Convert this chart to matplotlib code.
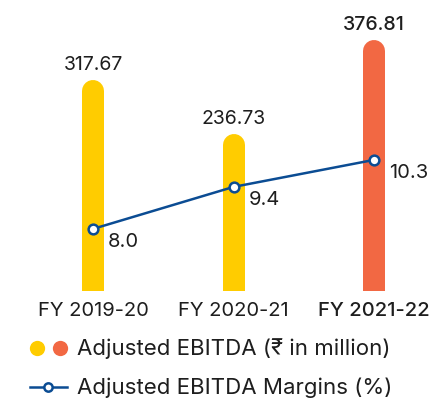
import matplotlib
matplotlib.use("Agg")
import matplotlib.pyplot as plt
from matplotlib.lines import Line2D

# chart values
years = ["FY 2019-20", "FY 2020-21", "FY 2021-22"]
ebitda = [317.67, 236.73, 376.81]
margins = [8.0, 9.4, 10.3]
bar_colors = ["#FFCC00", "#FFCC00", "#F26843"]
bold_last = [False, False, True]

plt.rcParams['font.family'] = ['Inter', 'DejaVu Sans']
text_col = "#1e1e1e"
blue = "#0B4C93"

W, H, dpi = 436, 400, 100
fig = plt.figure(figsize=(W / dpi, H / dpi), dpi=dpi)

# bars axis: bottom at 291px from top
ax = fig.add_axes([0, 1 - 291 / H, 1, 291 / H])
ax.set_xlim(-0.662, 2.441)
ax.set_ylim(0, 437.6)
ax.axis('off')

bar_px = 22
px_per_unit = 291 / 437.6
r = bar_px / 2 / px_per_unit
lw = bar_px * 72 / dpi
for i, v in enumerate(ebitda):
    wt = 'medium' if bold_last[i] else 'normal'
    ax.plot([i, i], [-2 * r, v - r], color=bar_colors[i], lw=lw,
            solid_capstyle='round', zorder=1)
    ax.annotate(f"{v:.2f}", (i, v), xytext=(0, 10), textcoords='offset pixels',
                ha='center', va='baseline', fontsize=14, color=text_col,
                weight=wt, annotation_clip=False)
    ax.annotate(years[i], (i, 0), xytext=(0, -25), textcoords='offset pixels',
                ha='center', va='baseline', fontsize=14.5, color=text_col,
                weight=wt, annotation_clip=False)

# margin line
ax2 = ax.twinx()
ax2.set_ylim(5.93, 15.63)
ax2.axis('off')
ax2.plot(range(len(margins)), margins, color=blue, lw=1.8, marker='o', ms=7,
         mfc='white', mec=blue, mew=1.8, zorder=3)
for i, m in enumerate(margins):
    ax2.annotate(f"{m:.1f}", (i, m), xytext=(15, -18), textcoords='offset pixels',
                 ha='left', va='baseline', fontsize=14.5, color=text_col)

# legend drawn in pixel space
lg = fig.add_axes([0, 0, 1, 1])
lg.set_xlim(0, W)
lg.set_ylim(H, 0)
lg.axis('off')
lg.plot([37], [348], 'o', ms=11, color=bar_colors[0], mec='none')
lg.plot([60], [348], 'o', ms=11, color=bar_colors[2], mec='none')
lg.text(77, 355, "Adjusted EBITDA (₹ in million)", fontsize=16, color=text_col,
        ha='left', va='baseline')
lg.add_line(Line2D([30, 67], [387, 387], color=blue, lw=1.8))
lg.plot([48], [387], 'o', ms=6, mfc='white', mec=blue, mew=1.8)
lg.text(77, 394, "Adjusted EBITDA Margins (%)", fontsize=16, color=text_col,
        ha='left', va='baseline')

fig.savefig("out.png", dpi=dpi)
